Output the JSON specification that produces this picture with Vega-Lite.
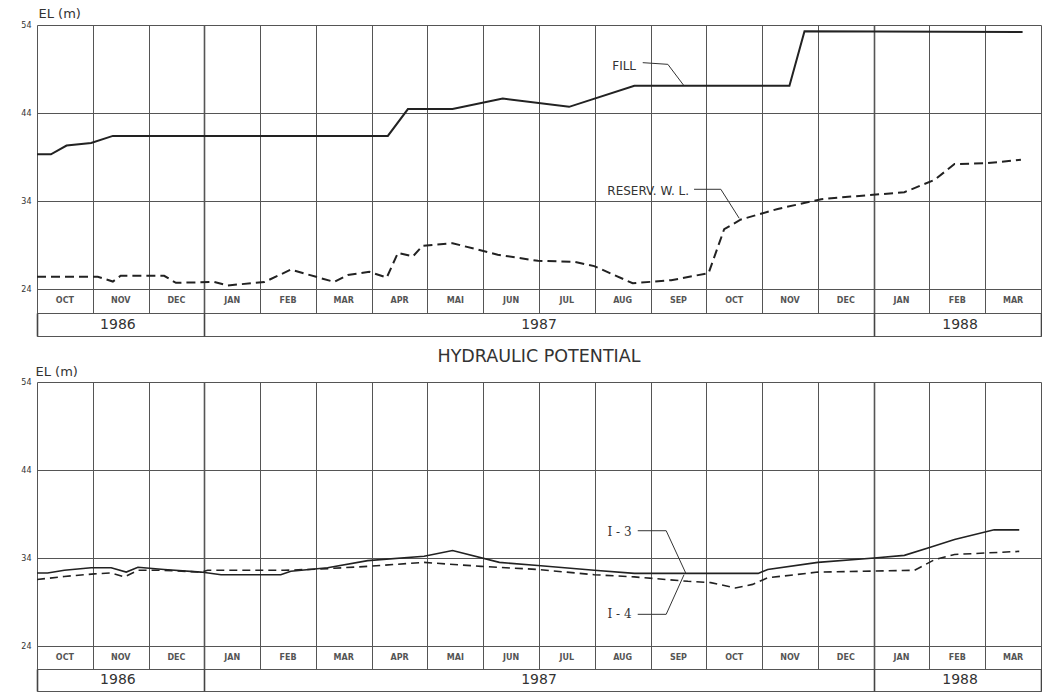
{
  "$schema": "https://vega.github.io/schema/vega-lite/v6.json",
  "background": "white",
  "padding": {"left": 20, "top": 7, "right": 0, "bottom": 0},
  "config": {"view": {"stroke": null}},
  "spacing": 10,
  "datasets": {
    "months": [
      {"t": 0.5, "mon": "OCT"}, {"t": 1.5, "mon": "NOV"}, {"t": 2.5, "mon": "DEC"},
      {"t": 3.5, "mon": "JAN"}, {"t": 4.5, "mon": "FEB"}, {"t": 5.5, "mon": "MAR"},
      {"t": 6.5, "mon": "APR"}, {"t": 7.5, "mon": "MAI"}, {"t": 8.5, "mon": "JUN"},
      {"t": 9.5, "mon": "JUL"}, {"t": 10.5, "mon": "AUG"}, {"t": 11.5, "mon": "SEP"},
      {"t": 12.5, "mon": "OCT"}, {"t": 13.5, "mon": "NOV"}, {"t": 14.5, "mon": "DEC"},
      {"t": 15.5, "mon": "JAN"}, {"t": 16.5, "mon": "FEB"}, {"t": 17.5, "mon": "MAR"}
    ],
    "years": [{"t": 1.45, "yr": "1986"}, {"t": 9.0, "yr": "1987"}, {"t": 16.55, "yr": "1988"}],
    "top": [
      {"s": "FILL", "t": 0, "el": 39.3}, {"s": "FILL", "t": 0.25, "el": 39.3}, {"s": "FILL", "t": 0.53, "el": 40.3},
      {"s": "FILL", "t": 0.97, "el": 40.6}, {"s": "FILL", "t": 1.36, "el": 41.4}, {"s": "FILL", "t": 6.29, "el": 41.4},
      {"s": "FILL", "t": 6.65, "el": 44.45}, {"s": "FILL", "t": 7.45, "el": 44.45}, {"s": "FILL", "t": 8.35, "el": 45.65},
      {"s": "FILL", "t": 9.54, "el": 44.7}, {"s": "FILL", "t": 10.71, "el": 47.1}, {"s": "FILL", "t": 13.49, "el": 47.1},
      {"s": "FILL", "t": 13.76, "el": 53.3}, {"s": "FILL", "t": 17.67, "el": 53.2},
      {"s": "WL", "t": 0, "el": 25.4}, {"s": "WL", "t": 1.09, "el": 25.4}, {"s": "WL", "t": 1.36, "el": 24.85},
      {"s": "WL", "t": 1.5, "el": 25.5}, {"s": "WL", "t": 2.28, "el": 25.5}, {"s": "WL", "t": 2.49, "el": 24.7},
      {"s": "WL", "t": 3.18, "el": 24.8}, {"s": "WL", "t": 3.42, "el": 24.4}, {"s": "WL", "t": 4.08, "el": 24.8},
      {"s": "WL", "t": 4.55, "el": 26.2}, {"s": "WL", "t": 5.33, "el": 24.8}, {"s": "WL", "t": 5.57, "el": 25.6},
      {"s": "WL", "t": 5.96, "el": 25.95}, {"s": "WL", "t": 6.27, "el": 25.3}, {"s": "WL", "t": 6.47, "el": 28.1},
      {"s": "WL", "t": 6.74, "el": 27.7}, {"s": "WL", "t": 6.91, "el": 28.9}, {"s": "WL", "t": 7.45, "el": 29.2},
      {"s": "WL", "t": 8.26, "el": 27.9}, {"s": "WL", "t": 8.98, "el": 27.2}, {"s": "WL", "t": 9.63, "el": 27.1},
      {"s": "WL", "t": 9.99, "el": 26.6}, {"s": "WL", "t": 10.68, "el": 24.65}, {"s": "WL", "t": 11.37, "el": 25.0},
      {"s": "WL", "t": 12.04, "el": 25.8}, {"s": "WL", "t": 12.32, "el": 30.8}, {"s": "WL", "t": 12.62, "el": 31.9},
      {"s": "WL", "t": 13.28, "el": 33.1}, {"s": "WL", "t": 14.06, "el": 34.2}, {"s": "WL", "t": 14.41, "el": 34.4},
      {"s": "WL", "t": 15.55, "el": 35.0}, {"s": "WL", "t": 16.09, "el": 36.4}, {"s": "WL", "t": 16.45, "el": 38.2},
      {"s": "WL", "t": 17.04, "el": 38.3}, {"s": "WL", "t": 17.64, "el": 38.7}
    ],
    "bottom": [
      {"s": "I3", "t": 0, "el": 32.3}, {"s": "I3", "t": 0.19, "el": 32.3}, {"s": "I3", "t": 0.49, "el": 32.6},
      {"s": "I3", "t": 0.97, "el": 32.9}, {"s": "I3", "t": 1.33, "el": 32.9}, {"s": "I3", "t": 1.6, "el": 32.4},
      {"s": "I3", "t": 1.81, "el": 32.95}, {"s": "I3", "t": 2.28, "el": 32.7}, {"s": "I3", "t": 2.94, "el": 32.4},
      {"s": "I3", "t": 3.3, "el": 32.1}, {"s": "I3", "t": 4.37, "el": 32.1}, {"s": "I3", "t": 4.55, "el": 32.5},
      {"s": "I3", "t": 5.21, "el": 32.9}, {"s": "I3", "t": 5.93, "el": 33.7}, {"s": "I3", "t": 6.94, "el": 34.2},
      {"s": "I3", "t": 7.45, "el": 34.85}, {"s": "I3", "t": 8.29, "el": 33.5}, {"s": "I3", "t": 8.98, "el": 33.15},
      {"s": "I3", "t": 9.99, "el": 32.6}, {"s": "I3", "t": 10.71, "el": 32.25}, {"s": "I3", "t": 12.93, "el": 32.25},
      {"s": "I3", "t": 13.1, "el": 32.7}, {"s": "I3", "t": 14.0, "el": 33.5}, {"s": "I3", "t": 15.01, "el": 34.0},
      {"s": "I3", "t": 15.55, "el": 34.3}, {"s": "I3", "t": 16.03, "el": 35.25}, {"s": "I3", "t": 16.45, "el": 36.1},
      {"s": "I3", "t": 17.16, "el": 37.2}, {"s": "I3", "t": 17.61, "el": 37.2},
      {"s": "I4", "t": 0, "el": 31.55}, {"s": "I4", "t": 0.49, "el": 31.9}, {"s": "I4", "t": 1.03, "el": 32.2},
      {"s": "I4", "t": 1.33, "el": 32.3}, {"s": "I4", "t": 1.57, "el": 31.85}, {"s": "I4", "t": 1.81, "el": 32.6},
      {"s": "I4", "t": 2.28, "el": 32.6}, {"s": "I4", "t": 2.94, "el": 32.4}, {"s": "I4", "t": 3.06, "el": 32.6},
      {"s": "I4", "t": 4.43, "el": 32.6}, {"s": "I4", "t": 5.09, "el": 32.75}, {"s": "I4", "t": 5.93, "el": 33.05},
      {"s": "I4", "t": 6.94, "el": 33.5}, {"s": "I4", "t": 7.96, "el": 33.05}, {"s": "I4", "t": 8.98, "el": 32.7},
      {"s": "I4", "t": 9.99, "el": 32.1}, {"s": "I4", "t": 10.71, "el": 31.85}, {"s": "I4", "t": 11.67, "el": 31.35},
      {"s": "I4", "t": 12.08, "el": 31.2}, {"s": "I4", "t": 12.52, "el": 30.6}, {"s": "I4", "t": 12.83, "el": 31.0},
      {"s": "I4", "t": 13.1, "el": 31.75}, {"s": "I4", "t": 14.0, "el": 32.4}, {"s": "I4", "t": 15.73, "el": 32.6},
      {"s": "I4", "t": 16.09, "el": 33.8}, {"s": "I4", "t": 16.45, "el": 34.4}, {"s": "I4", "t": 17.61, "el": 34.75}
    ],
    "leaders": [
      {"p": "top", "s": "FILL", "t": 10.86, "el": 49.72}, {"p": "top", "s": "FILL", "t": 11.31, "el": 49.53}, {"p": "top", "s": "FILL", "t": 11.59, "el": 47.18},
      {"p": "top", "s": "WL", "t": 11.78, "el": 35.33}, {"p": "top", "s": "WL", "t": 12.26, "el": 35.33}, {"p": "top", "s": "WL", "t": 12.59, "el": 32.03},
      {"p": "bottom", "s": "I3", "t": 10.77, "el": 37.1}, {"p": "bottom", "s": "I3", "t": 11.28, "el": 37.1}, {"p": "bottom", "s": "I3", "t": 11.63, "el": 32.3},
      {"p": "bottom", "s": "I4", "t": 10.77, "el": 27.6}, {"p": "bottom", "s": "I4", "t": 11.28, "el": 27.6}, {"p": "bottom", "s": "I4", "t": 11.6, "el": 32.1}
    ],
    "labels": [
      {"p": "top", "txt": "FILL", "t": 10.74, "el": 49.35},
      {"p": "top", "txt": "RESERV. W. L.", "t": 11.69, "el": 35.15},
      {"p": "bottom", "txt": "I - 3", "t": 10.66, "el": 37.0},
      {"p": "bottom", "txt": "I - 4", "t": 10.66, "el": 27.6}
    ]
  },
  "vconcat": [
    {
      "bounds": "flush",
      "spacing": 0,
      "vconcat": [
        {
          "width": 1004,
          "height": 264,
          "data": {"name": "top"},
          "encoding": {
            "x": {"field": "t", "type": "quantitative", "scale": {"domain": [0, 18], "nice": false, "zero": false},
              "axis": {"values": [0, 1, 2, 3, 4, 5, 6, 7, 8, 9, 10, 11, 12, 13, 14, 15, 16, 17, 18], "grid": true, "gridColor": "#555", "gridOpacity": 1,
                "gridWidth": {"condition": {"test": "datum.value === 3 || datum.value === 15", "value": 1.6}, "value": 1},
                "labels": false, "ticks": false, "domain": false, "title": null}},
            "y": {"field": "el", "type": "quantitative", "scale": {"domain": [24, 54], "nice": false, "zero": false},
              "axis": {"values": [24, 34, 44, 54], "grid": true, "gridColor": "#555", "gridOpacity": 1, "gridWidth": 1, "domain": false, "ticks": false, "labelPadding": 6, "labelFontSize": 8, "labelFont": "DejaVu Sans", "labelColor": "#333",
                "title": "EL (m)", "titleAngle": 0, "titleAlign": "left", "titleBaseline": "alphabetic", "titleX": 1, "titleY": -8, "titleFontSize": 13, "titleFontWeight": "normal", "titleFont": "DejaVu Sans", "titleColor": "#333"}}
          },
          "layer": [
            {"transform": [{"filter": "datum.s === 'FILL'"}], "mark": {"type": "line", "color": "#222", "strokeWidth": 2}},
            {"transform": [{"filter": "datum.s === 'WL'"}], "mark": {"type": "line", "color": "#222", "strokeWidth": 2, "strokeDash": [9, 5]}},
            {"data": {"name": "leaders"}, "transform": [{"filter": "datum.p === 'top'"}], "mark": {"type": "line", "color": "#333", "strokeWidth": 1}, "encoding": {"detail": {"field": "s"}}},
            {"data": {"name": "labels"}, "transform": [{"filter": "datum.p === 'top'"}], "mark": {"type": "text", "font": "DejaVu Sans", "fontSize": 12, "color": "#333", "align": "right", "baseline": "middle"}, "encoding": {"text": {"field": "txt"}}}
          ]
        },
        {
          "width": 1004,
          "height": 24,
          "view": {"stroke": "#555"},
          "data": {"name": "months"},
          "mark": {"type": "text", "font": "DejaVu Sans", "fontSize": 8, "fontWeight": "bold", "color": "#555", "baseline": "middle"},
          "encoding": {
            "x": {"field": "t", "type": "quantitative", "scale": {"domain": [0, 18], "nice": false, "zero": false},
              "axis": {"values": [0, 1, 2, 3, 4, 5, 6, 7, 8, 9, 10, 11, 12, 13, 14, 15, 16, 17, 18], "grid": true, "gridColor": "#555", "gridOpacity": 1,
                "gridWidth": {"condition": {"test": "datum.value === 3 || datum.value === 15", "value": 1.6}, "value": 1},
                "labels": false, "ticks": false, "domain": false, "title": null}},
            "text": {"field": "mon"}
          }
        },
        {
          "width": 1004,
          "height": 23,
          "view": {"stroke": "#555"},
          "data": {"name": "years"},
          "mark": {"type": "text", "font": "DejaVu Sans", "fontSize": 14, "color": "#333", "baseline": "middle"},
          "encoding": {
            "x": {"field": "t", "type": "quantitative", "scale": {"domain": [0, 18], "nice": false, "zero": false},
              "axis": {"values": [0, 3, 15, 18], "grid": true, "gridColor": "#444", "gridOpacity": 1, "gridWidth": 1.6,
                "labels": false, "ticks": false, "domain": false, "title": null}},
            "text": {"field": "yr"}
          }
        }
      ]
    },
    {
      "bounds": "flush",
      "spacing": 0,
      "vconcat": [
        {
          "width": 1004,
          "height": 264,
          "title": {"text": "HYDRAULIC POTENTIAL", "anchor": "middle", "frame": "group", "offset": 0, "fontSize": 17.5, "fontWeight": "normal", "font": "DejaVu Sans", "color": "#333"},
          "data": {"name": "bottom"},
          "encoding": {
            "x": {"field": "t", "type": "quantitative", "scale": {"domain": [0, 18], "nice": false, "zero": false},
              "axis": {"values": [0, 1, 2, 3, 4, 5, 6, 7, 8, 9, 10, 11, 12, 13, 14, 15, 16, 17, 18], "grid": true, "gridColor": "#555", "gridOpacity": 1,
                "gridWidth": {"condition": {"test": "datum.value === 3 || datum.value === 15", "value": 1.6}, "value": 1},
                "labels": false, "ticks": false, "domain": false, "title": null}},
            "y": {"field": "el", "type": "quantitative", "scale": {"domain": [24, 54], "nice": false, "zero": false},
              "axis": {"values": [24, 34, 44, 54], "grid": true, "gridColor": "#555", "gridOpacity": 1, "gridWidth": 1, "domain": false, "ticks": false, "labelPadding": 6, "labelFontSize": 8, "labelFont": "DejaVu Sans", "labelColor": "#333",
                "title": "EL (m)", "titleAngle": 0, "titleAlign": "left", "titleBaseline": "alphabetic", "titleX": -2, "titleY": -7, "titleFontSize": 13, "titleFontWeight": "normal", "titleFont": "DejaVu Sans", "titleColor": "#333"}}
          },
          "layer": [
            {"transform": [{"filter": "datum.s === 'I3'"}], "mark": {"type": "line", "color": "#222", "strokeWidth": 1.6}},
            {"transform": [{"filter": "datum.s === 'I4'"}], "mark": {"type": "line", "color": "#222", "strokeWidth": 1.6, "strokeDash": [8, 5]}},
            {"data": {"name": "leaders"}, "transform": [{"filter": "datum.p === 'bottom'"}], "mark": {"type": "line", "color": "#333", "strokeWidth": 1}, "encoding": {"detail": {"field": "s"}}},
            {"data": {"name": "labels"}, "transform": [{"filter": "datum.p === 'bottom'"}], "mark": {"type": "text", "font": "DejaVu Serif", "fontSize": 12, "color": "#333", "align": "right", "baseline": "middle"}, "encoding": {"text": {"field": "txt"}}}
          ]
        },
        {
          "width": 1004,
          "height": 23,
          "view": {"stroke": "#555"},
          "data": {"name": "months"},
          "mark": {"type": "text", "font": "DejaVu Sans", "fontSize": 8, "fontWeight": "bold", "color": "#555", "baseline": "middle"},
          "encoding": {
            "x": {"field": "t", "type": "quantitative", "scale": {"domain": [0, 18], "nice": false, "zero": false},
              "axis": {"values": [0, 1, 2, 3, 4, 5, 6, 7, 8, 9, 10, 11, 12, 13, 14, 15, 16, 17, 18], "grid": true, "gridColor": "#555", "gridOpacity": 1,
                "gridWidth": {"condition": {"test": "datum.value === 3 || datum.value === 15", "value": 1.6}, "value": 1},
                "labels": false, "ticks": false, "domain": false, "title": null}},
            "text": {"field": "mon"}
          }
        },
        {
          "width": 1004,
          "height": 22,
          "view": {"stroke": "#555"},
          "data": {"name": "years"},
          "mark": {"type": "text", "font": "DejaVu Sans", "fontSize": 14, "color": "#333", "baseline": "middle"},
          "encoding": {
            "x": {"field": "t", "type": "quantitative", "scale": {"domain": [0, 18], "nice": false, "zero": false},
              "axis": {"values": [0, 3, 15, 18], "grid": true, "gridColor": "#444", "gridOpacity": 1, "gridWidth": 1.6,
                "labels": false, "ticks": false, "domain": false, "title": null}},
            "text": {"field": "yr"}
          }
        }
      ]
    }
  ]
}
